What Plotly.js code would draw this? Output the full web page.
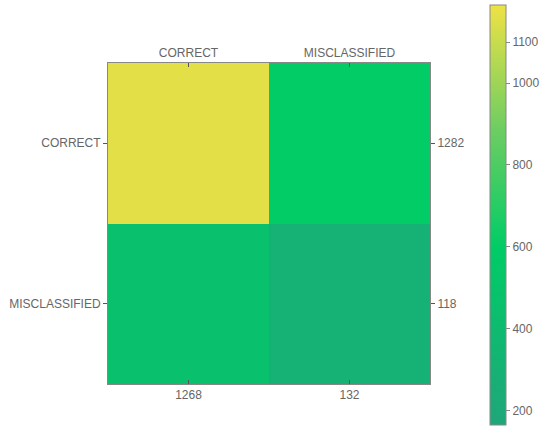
<!DOCTYPE html>
<html>
<head>
<meta charset="utf-8">
<script src="https://cdn.plot.ly/plotly-3.0.1.min.js"></script>
<style>
  body { margin: 0; background: #fff; }
  #confusion { width: 550px; height: 430px; }
</style>
</head>
<body>
<div id="confusion"></div>
<script>
// data
var classLabels = ['CORRECT', 'MISCLASSIFIED'];
var rowTotals = ['1282', '118'];
var colTotals = ['1268', '132'];
var rowCorrect = [1165, 600];
var rowMisclassified = [470, 290];
var colorTicks = [200, 400, 600, 800, 1000, 1100];

var idx = [0, 1];
var grey = '#666';

var heat = {
    type: 'heatmap',
    x: idx,
    y: idx,
    z: [rowCorrect, rowMisclassified],
    zmin: 165,
    zmax: 1190,
    colorscale: [
        [0, '#1fa67a'],
        [0.42, '#00cc66'],
        [0.7, '#6ccd62'],
        [1, '#eee245']
    ],
    colorbar: {
        x: 1.186,
        xanchor: 'left',
        y: 0.526,
        yanchor: 'middle',
        len: 420,
        lenmode: 'pixels',
        thickness: 16,
        xpad: 0,
        ypad: 0,
        outlinecolor: '#888',
        outlinewidth: 1,
        tickvals: colorTicks,
        ticks: 'outside',
        ticklen: 4,
        tickcolor: '#888',
        tickfont: {color: grey, size: 12}
    }
};

// invisible trace so the bottom/right total axes get drawn
var totals = {
    type: 'scatter',
    x: idx,
    y: idx,
    xaxis: 'x2',
    yaxis: 'y2',
    mode: 'markers',
    marker: {opacity: 0},
    hoverinfo: 'skip',
    showlegend: false
};

var axisStyle = {
    range: [-0.5, 1.5],
    tickvals: idx,
    ticklen: 4,
    tickcolor: '#555',
    tickfont: {color: grey, size: 12},
    showgrid: false,
    zeroline: false,
    showline: true,
    linecolor: '#888',
    linewidth: 1
};

var layout = {
    width: 550,
    height: 430,
    margin: {l: 108, r: 120, t: 63, b: 46, autoexpand: false},
    paper_bgcolor: '#fff',
    plot_bgcolor: '#fff',
    font: {family: 'Liberation Sans, Arial, sans-serif', size: 12, color: grey},
    xaxis: Object.assign({}, axisStyle, {
        side: 'top',
        ticktext: classLabels,
        ticks: 'inside'
    }),
    yaxis: Object.assign({}, axisStyle, {
        range: [1.5, -0.5],
        ticktext: classLabels,
        ticks: 'outside'
    }),
    xaxis2: Object.assign({}, axisStyle, {
        overlaying: 'x',
        side: 'bottom',
        anchor: 'y2',
        ticktext: colTotals,
        ticks: 'inside'
    }),
    yaxis2: Object.assign({}, axisStyle, {
        overlaying: 'y',
        side: 'right',
        anchor: 'x2',
        range: [1.5, -0.5],
        ticktext: rowTotals,
        ticks: 'outside'
    })
};

Plotly.newPlot('confusion', [heat, totals], layout, {displayModeBar: false, staticPlot: true});
</script>
</body>
</html>
